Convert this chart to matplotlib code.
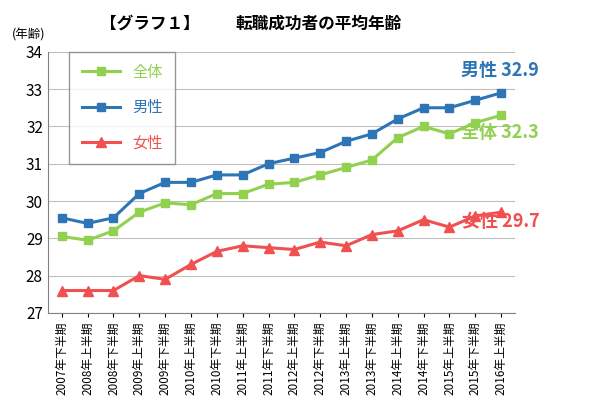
import matplotlib
matplotlib.use('Agg')
import matplotlib.pyplot as plt

plt.rcParams['font.family'] = ['Noto Sans CJK JP', 'DejaVu Sans']

periods = ['2007年下半期', '2008年上半期', '2008年下半期', '2009年上半期', '2009年下半期',
           '2010年上半期', '2010年下半期', '2011年上半期', '2011年下半期', '2012年上半期',
           '2012年下半期', '2013年上半期', '2013年下半期', '2014年上半期', '2014年下半期',
           '2015年上半期', '2015年下半期', '2016年上半期']
total = [29.05, 28.95, 29.2, 29.7, 29.95, 29.9, 30.2, 30.2, 30.45, 30.5,
         30.7, 30.9, 31.1, 31.7, 32.0, 31.8, 32.1, 32.3]
male = [29.55, 29.4, 29.55, 30.2, 30.5, 30.5, 30.7, 30.7, 31.0, 31.15,
        31.3, 31.6, 31.8, 32.2, 32.5, 32.5, 32.7, 32.9]
female = [27.6, 27.6, 27.6, 28.0, 27.9, 28.3, 28.65, 28.8, 28.75, 28.7,
          28.9, 28.8, 29.1, 29.2, 29.5, 29.3, 29.6, 29.7]

green, blue, red = '#92D050', '#2E75B6', '#F05050'

fig = plt.figure(figsize=(5.9, 4.08), dpi=100)
ax = fig.add_axes([0.081, 0.233, 0.792, 0.64])
x = range(len(periods))
ax.plot(x, total, color=green, marker='s', ms=6, lw=2.2, label='全体')
ax.plot(x, male, color=blue, marker='s', ms=6, lw=2.2, label='男性')
ax.plot(x, female, color=red, marker='^', ms=7, lw=2.2, label='女性')

ax.set_ylim(27, 34)
ax.set_xlim(-0.54, len(periods) - 0.46)
ax.set_yticks(range(27, 35))
ax.tick_params(axis='y', labelsize=11, length=0)
ax.set_xticks(list(x))
ax.set_xticklabels(periods, rotation=90, fontsize=8.5)
ax.tick_params(axis='x', length=3)
ax.grid(axis='y', color='#BFBFBF', lw=0.8)
ax.set_axisbelow(True)
for s in ['top', 'right']:
    ax.spines[s].set_visible(False)
ax.spines['left'].set_color('#808080')
ax.spines['bottom'].set_color('#808080')

leg = ax.legend(loc='upper left', bbox_to_anchor=(0.03, 1.03), fontsize=11,
                frameon=True, fancybox=False, edgecolor='#808080',
                labelspacing=1.2, borderpad=0.8, handlelength=2.5)
for t, c in zip(leg.get_texts(), [green, blue, red]):
    t.set_color(c)

ax.text(15.45, 33.5, '男性 32.9', color=blue, fontsize=13, fontweight='bold', va='center', clip_on=False)
ax.text(15.45, 31.85, '全体 32.3', color=green, fontsize=13, fontweight='bold', va='center', clip_on=False)
ax.text(15.5, 29.45, '女性 29.7', color=red, fontsize=13, fontweight='bold', va='center', clip_on=False)

fig.text(0.02, 0.905, '(年齢)', fontsize=9)
fig.text(0.17, 0.93, '【グラフ１】', fontsize=12, fontweight='bold')
fig.text(0.40, 0.93, '転職成功者の平均年齢', fontsize=12, fontweight='bold')

fig.savefig('out.png', dpi=100)
